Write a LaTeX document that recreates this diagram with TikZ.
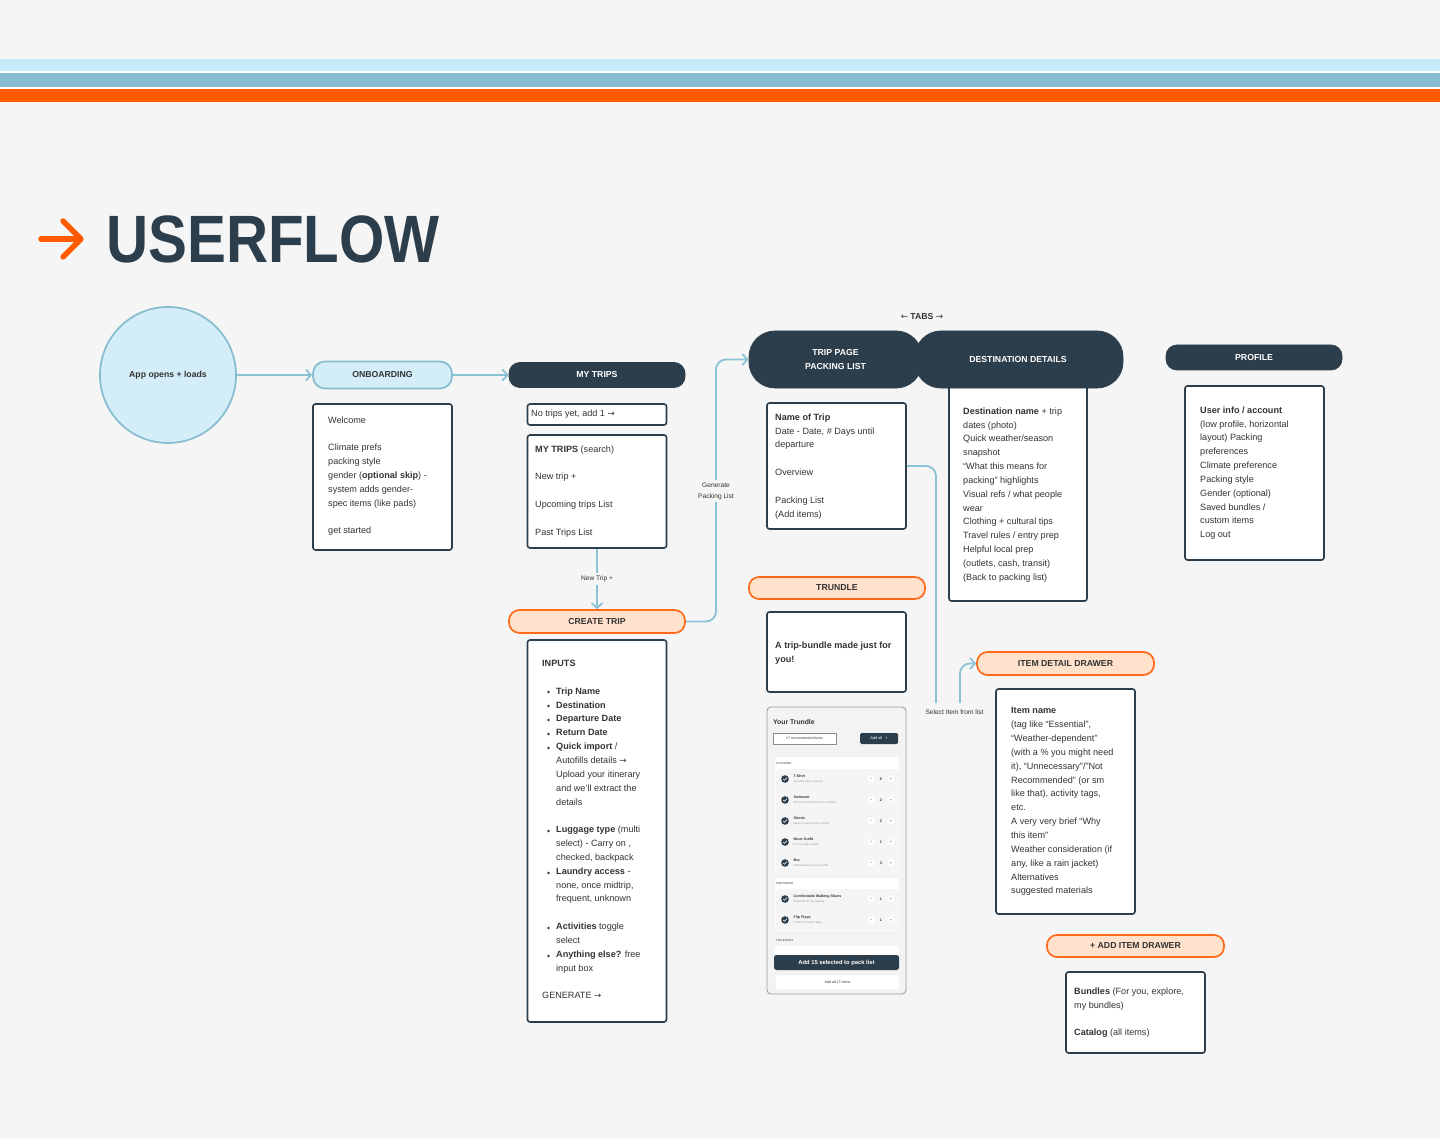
\documentclass[tikz,border=0pt]{standalone}
\usepackage{fontspec}
\usepackage{graphicx}
\setmainfont{Liberation Sans}
\newfontfamily\arrfont{DejaVu Sans}
\usetikzlibrary{arrows.meta,calc}
\definecolor{bg}{HTML}{F5F5F5}
\definecolor{navy}{HTML}{2C3E4C}
\definecolor{lblue}{HTML}{D3EEF9}
\definecolor{sky}{HTML}{C7EAF8}
\definecolor{stripe}{HTML}{86BCD0}
\definecolor{mblue}{HTML}{8CC2D5}
\definecolor{orng}{HTML}{FF5A00}
\definecolor{peach}{HTML}{FFE1CC}
\definecolor{porange}{HTML}{FF6A1A}
\definecolor{txt}{HTML}{333333}
\definecolor{mockbg}{HTML}{F3F3F3}
\definecolor{rowbg}{HTML}{EEEEEE}
\newcommand{\bodyfont}{\fontsize{9.1}{13.85}\selectfont}
\newcommand{\pillfont}{\fontsize{8.7}{13.9}\selectfont\bfseries}
\newcommand{\lblfont}{\fontsize{6.6}{11}\selectfont}
\newcommand{\rarr}{{\arrfont\fontsize{8.6}{9}\selectfont →}}
\begin{document}
\begin{tikzpicture}[x=1pt,y=-1pt,
  >={Straight Barb[length=5pt,width=11pt]},
  conn/.style={draw=mblue,line width=1.8pt,rounded corners=10pt},
  pill/.style={rectangle,inner sep=0,font=\pillfont,align=center},
  pdark/.style={pill,fill=navy,draw=navy,text=white,line width=0.8pt},
  plight/.style={pill,fill=lblue,draw=stripe,line width=1.7pt,text=txt},
  porng/.style={pill,fill=peach,draw=porange,line width=1.7pt,text=txt},
  card/.style={rectangle,fill=white,draw=navy,line width=1.6pt,rounded corners=2.5pt,inner sep=0},
  body/.style={anchor=north west,inner sep=0,align=left,font=\bodyfont,text=txt},
  lbl/.style={inner sep=2.5pt,font=\lblfont,text=txt,fill=bg,align=center},
  mtiny/.style={anchor=west,inner sep=0,text=txt},
  mbtn/.style={circle,fill=white,inner sep=0,minimum size=7,font=\fontsize{3.6}{4}\selectfont,text=txt},
]
\useasboundingbox (0,0) rectangle (1440,1139);
\fill[bg] (0,0) rectangle (1440,1139);
% stripes
\fill[sky] (0,59) rectangle (1440,71);
\fill[white] (0,71) rectangle (1440,73);
\fill[stripe] (0,73) rectangle (1440,87);
\fill[white] (0,87) rectangle (1440,89);
\fill[orng] (0,89) rectangle (1440,102);
% title
\draw[orng,line width=5.4pt,line cap=round] (41,239) -- (79,239);
\draw[orng,line width=5.4pt,line cap=round,line join=round] (63,221) -- (81,239) -- (63,257);
\node[anchor=west,inner sep=0,text=navy,font=\fontsize{67}{67}\selectfont\bfseries] (title) at (106,239) {\scalebox{0.87}[1]{USERFLOW}};

% start circle
\node[circle,fill=lblue,draw=stripe,line width=1.7pt,minimum size=136,inner sep=0,font=\fontsize{8.7}{10}\selectfont\bfseries,text=txt] (app) at (168,375) {App opens + loads};

% pills
\node[plight,minimum width=139,minimum height=27,rounded corners=12pt] (onb) at (382.5,375) {ONBOARDING};
\node[pdark,minimum width=176,minimum height=25,rounded corners=11pt] (mytrips) at (597,375) {MY TRIPS};
\node[porng,minimum width=176,minimum height=23,rounded corners=10.5pt] (create) at (597,621.5) {CREATE TRIP};

% destination box (behind pill)
\node[card,minimum width=138,minimum height=216] (destbox) at (1018,493) {};
\node[pdark,minimum width=173,minimum height=57,rounded corners=26pt] (trip) at (835.5,359.5) {TRIP PAGE\\PACKING LIST};
\node[pdark,minimum width=208,minimum height=57,rounded corners=26pt] (dest) at (1019,359.5) {\hspace*{-2pt}DESTINATION DETAILS};
\node[inner sep=0,font=\pillfont,text=txt] (tabs) at (922,317) {{\arrfont\mdseries ←} TABS {\arrfont\mdseries →}};
\node[pdark,minimum width=176,minimum height=25,rounded corners=11pt] (profile) at (1254,357.5) {PROFILE};
\node[porng,minimum width=176,minimum height=22,rounded corners=10pt] (trundle) at (837,588) {TRUNDLE};
\node[porng,minimum width=177,minimum height=23,rounded corners=10.5pt] (itemdr) at (1065.5,663.5) {ITEM DETAIL DRAWER};
\node[porng,minimum width=177,minimum height=22,rounded corners=10pt] (adddr) at (1135.5,946) {+ ADD ITEM DRAWER};

% cards
\node[card,minimum width=139,minimum height=146] (onbbox) at (382.5,477) {};
\node[card,minimum width=139,minimum height=21] (notrips) at (597,414.5) {};
\node[card,minimum width=139,minimum height=113] (mtbox) at (597,491.5) {};
\node[card,minimum width=139,minimum height=382] (inputs) at (597,831) {};
\node[card,minimum width=139,minimum height=126] (tripbox) at (836.5,466) {};
\node[card,minimum width=139,minimum height=174] (profbox) at (1254.5,473) {};
\node[card,minimum width=139,minimum height=80] (trbox) at (836.5,652) {};
\node[card,minimum width=139,minimum height=225] (itembox) at (1065.5,801.5) {};
\node[card,minimum width=139,minimum height=81] (addbox) at (1135.5,1012.5) {};

% card texts
\node[body] (onbtxt) at (328,416.4) {Welcome\\[13.85pt]Climate prefs\\packing style\\gender (\textbf{optional skip}) -\\system adds gender-\\spec items (like pads)\\[13.85pt]get started};
\node[body] (notxt) at (531,409.4) {No trips yet, add 1 \rarr};
\node[body] (mttxt) at (535,445.4) {\textbf{MY TRIPS} (search)\\[13.85pt]New trip +\\[13.85pt]Upcoming trips List\\[13.85pt]Past Trips List};
\node[body] (inhead) at (542,660.4) {\textbf{INPUTS}};
\node[body] (intxt) at (556,687.4) {\textbf{Trip Name}\\\textbf{Destination}\\\textbf{Departure Date}\\\textbf{Return Date}\\\textbf{Quick import} /\\Autofills details \rarr\\Upload your itinerary\\and we'll extract the\\details\\[13.85pt]\textbf{Luggage type} (multi\\select) - Carry on ,\\checked, backpack\\\textbf{Laundry access} -\\none, once midtrip,\\frequent, unknown\\[13.85pt]\textbf{Activities} toggle\\select\\\textbf{Anything else?} free\\input box};
\foreach \yy in {692,706,720,734,748,831,873,928,956} \fill[txt] (548.5,\yy) circle (1.3);
\node[body] (gen) at (542,992.4) {GENERATE \rarr};
\node[body] (triptxt) at (775,413.4) {\textbf{Name of Trip}\\Date - Date, \# Days until\\departure\\[13.85pt]Overview\\[13.85pt]Packing List\\(Add items)};
\node[body] (desttxt) at (963,407.4) {\textbf{Destination name} + trip\\dates (photo)\\Quick weather/season\\snapshot\\“What this means for\\packing” highlights\\Visual refs / what people\\wear\\Clothing + cultural tips\\Travel rules / entry prep\\Helpful local prep\\(outlets, cash, transit)\\(Back to packing list)};
\node[body] (proftxt) at (1200,406.4) {\textbf{User info / account}\\(low profile, horizontal\\layout) Packing\\preferences\\Climate preference\\Packing style\\Gender (optional)\\Saved bundles /\\custom items\\Log out};
\node[body,font=\bodyfont\bfseries] (trtxt) at (775,641.4) {A trip-bundle made just for\\you!};
\node[body] (itemtxt) at (1011,707.4) {\textbf{Item name}\\(tag like “Essential”,\\“Weather-dependent”\\(with a \% you might need\\it), “Unnecessary”/”Not\\Recommended” (or sm\\like that), activity tags,\\etc.\\A very very brief “Why\\this item”\\Weather consideration (if\\any, like a rain jacket)\\Alternatives\\suggested materials};
\node[body] (addtxt) at (1074,987.4) {\textbf{Bundles} (For you, explore,\\my bundles)\\[13.85pt]\textbf{Catalog} (all items)};

% mockup
\node[rectangle,fill=mockbg,draw=black!40,line width=0.8pt,rounded corners=4pt,minimum width=139,minimum height=287,inner sep=0] (mock) at (836.5,850.5) {};
\node[mtiny,font=\fontsize{6.8}{8}\selectfont\bfseries] (myt) at (773,722) {Your Trundle};
\node[rectangle,fill=white,draw=black!45,line width=0.5pt,minimum width=63,minimum height=11,inner sep=0,font=\fontsize{3.5}{4}\selectfont,text=txt] (mrec) at (804.5,738.5) {17 recommended items};
\node[rectangle,fill=navy,rounded corners=1.5pt,minimum width=38,minimum height=11,inner sep=0,font=\fontsize{3.9}{4}\selectfont,text=white] (maddall) at (879,738.5) {Add all \ \ +};
\fill[white,rounded corners=3pt] (775,757) rectangle (899,873);
\fill[rowbg!60!white,rounded corners=3pt] (776,769) rectangle (899,873);
\node[mtiny,font=\fontsize{2.9}{3}\selectfont\bfseries,text=black!55] (mclo) at (776,763) {CLOTHING};
\fill[white,rounded corners=3pt] (775,878) rectangle (899,931);
\fill[rowbg!60!white,rounded corners=3pt] (776,889) rectangle (899,930);
\foreach \yy/\nn/\ss/\qq in {779/T-Shirt/Versatile daily essential/6,800/Swimsuit/Recommended for beach activities/2,821/Shorts/Ideal for warm beach climate/2,842/Nicer Outfit/For evening outings/1,863/Bra/Added based on your profile/3,899/Comfortable Walking Shoes/Essential for city walking/1,920/Flip Flops/Perfect for beach days/1}{
  \fill[navy] (785,\yy) circle (3.8);
  \draw[white,line width=0.6pt] (783.2,\yy) -- (784.5,\yy+1.3) -- (786.9,\yy-1.3);
  \node[mtiny,font=\fontsize{3.6}{4}\selectfont\bfseries] (mn\yy) at (793.5,\yy-2.3) {\nn};
  \node[mtiny,font=\fontsize{2.8}{3}\selectfont,text=black!40] (ms\yy) at (793.5,\yy+2.7) {\ss};
  \node[mbtn] (mm\yy) at (871,\yy) {–};
  \node[inner sep=0,font=\fontsize{3.7}{4}\selectfont\bfseries,text=txt] (mq\yy) at (881,\yy) {\qq};
  \node[mbtn] (mp\yy) at (891,\yy) {+};
}
\node[mtiny,font=\fontsize{2.9}{3}\selectfont\bfseries,text=black!55] (mfoot) at (776,883) {FOOTWEAR};
\node[mtiny,font=\fontsize{2.9}{3}\selectfont\bfseries,text=black!55] (mtoil) at (776,940) {TOILETRIES};
\fill[white,rounded corners=3pt] (775,946) rectangle (899,956);
\node[rectangle,fill=navy,rounded corners=2.5pt,minimum width=125,minimum height=15,inner sep=0,font=\fontsize{5.8}{6}\selectfont\bfseries,text=white] (madd15) at (836.5,962.5) {Add 15 selected to pack list};
\node[rectangle,fill=white,rounded corners=3pt,minimum width=123,minimum height=14,inner sep=0,font=\fontsize{3.6}{4}\selectfont,text=txt] (madd17) at (837.5,982) {Add all 17 items};

% connectors
\draw[conn,->] (app.east) -- (onb.west);
\draw[conn,->] (onb.east) -- (mytrips.west);
\node[lbl] (newtrip) at (597,579) {New Trip +};
\draw[conn] (mtbox.south) -- (newtrip.north);
\draw[conn,->] (newtrip.south) -- (create.north);
\draw[conn,->] (create.east) -| (716,359.5) -- (trip.west);
\node[lbl] (genlbl) at (716,491) {Generate\\Packing List};
\coordinate (c1) at (936,703);
\draw[conn] (tripbox.east) -| (c1);
\node[lbl,fill=none] (sel) at (954.5,712) {Select Item from list};
\coordinate (c2) at (960,703);
\draw[conn,->] (c2) |- (itemdr.west);
\end{tikzpicture}
\end{document}
